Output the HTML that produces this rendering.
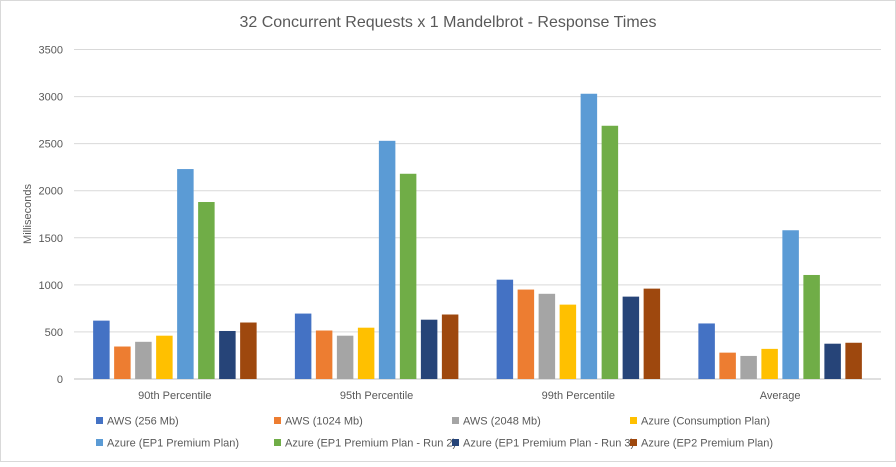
<!DOCTYPE html>
<html><head><meta charset="utf-8"><style>
body{margin:0;background:#fff;font-family:"Liberation Sans",sans-serif}
svg text{font-family:"Liberation Sans",sans-serif;fill:#595959}
</style></head><body>
<svg id="c" width="896" height="462">
<rect x="0.5" y="0.5" width="895" height="461" fill="#fff" stroke="#d9d9d9"/>
<text x="448" y="27" text-anchor="middle" font-size="16">32 Concurrent Requests x 1 Mandelbrot - Response Times</text>
<text transform="translate(31,214) rotate(-90)" text-anchor="middle" font-size="11">Milliseconds</text>
<g id="grid"></g><g id="bars"></g><g id="legend"></g>
</svg>
<script>
const categories=["90th Percentile","95th Percentile","99th Percentile","Average"];
const seriesNames=["AWS (256 Mb)","AWS (1024 Mb)","AWS (2048 Mb)","Azure (Consumption Plan)","Azure (EP1 Premium Plan)","Azure (EP1 Premium Plan - Run 2)","Azure (EP1 Premium Plan - Run 3)","Azure (EP2 Premium Plan)"];
const colors=["#4472c4","#ed7d31","#a5a5a5","#ffc000","#5b9bd5","#70ad47","#264478","#9e480e"];
const aws256=[620,695,1055,590];
const aws1024=[345,515,950,280];
const aws2048=[395,460,905,245];
const azureConsumption=[460,545,790,320];
const azureEP1=[2230,2530,3030,1580];
const azureEP1Run2=[1880,2180,2690,1105];
const azureEP1Run3=[510,630,875,375];
const azureEP2=[600,685,960,385];
const series=[aws256,aws1024,aws2048,azureConsumption,azureEP1,azureEP1Run2,azureEP1Run3,azureEP2];
const yTicks=[0,500,1000,1500,2000,2500,3000,3500];
const NS="http://www.w3.org/2000/svg";
const x0=74,x1=881,y0=379,y1=49.5,ymax=3500;
const gw=(x1-x0)/categories.length;
function y(v){return y0-(v/ymax)*(y0-y1);}
function mk(t,a,p){const e=document.createElementNS(NS,t);for(const k in a)e.setAttribute(k,a[k]);p.appendChild(e);return e;}
const grid=document.getElementById('grid');
yTicks.forEach(t=>{
 const l=mk('line',{x1:x0,x2:x1,y1:y(t),y2:y(t),stroke:t===0?'#bfbfbf':'#d9d9d9','stroke-width':1},grid);
 
 
 const tx=mk('text',{x:63,y:y(t)+4,'text-anchor':'end','font-size':11},grid);tx.textContent=t;
 
 
});
const bars=document.getElementById('bars');
const pitch=21,bw=16.5;
categories.forEach((c,i)=>{
 const cx=x0+gw*(i+0.5);
 series.forEach((s,j)=>{
  const bx=cx-pitch*4+j*pitch+(pitch-bw)/2;
  const r=mk('rect',{x:bx,y:y(s[i]),width:bw,height:y0-y(s[i]),fill:colors[j]},bars);
  
  
 });
 const t=mk('text',{x:cx,y:399,'text-anchor':'middle','font-size':11},bars);t.textContent=c;
 
 
});
const lg=document.getElementById('legend');
const lx=[96,274,452,630];
seriesNames.forEach((n,j)=>{
 const r=Math.floor(j/4),col=j%4,yy=421+r*22;
 const g=mk('g',{},lg);
 
 
 mk('rect',{x:lx[col],y:yy-4,width:7,height:7,fill:colors[j]},g);
 const t=mk('text',{x:lx[col]+11,y:yy+3.5,'font-size':11},g);t.textContent=n;
});
</script>
</body></html>
